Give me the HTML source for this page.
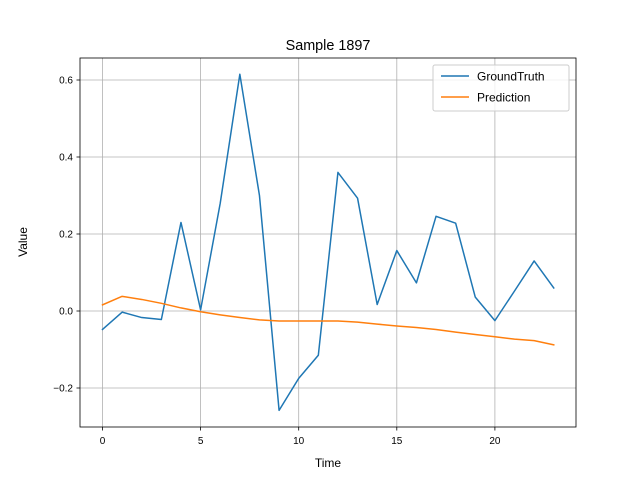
<!DOCTYPE html>
<html><head><meta charset="utf-8"><style>
body{margin:0;background:#fff}
svg text{font-family:"Liberation Sans","DejaVu Sans",sans-serif;fill:#000}
</style></head><body>
<svg id="chart" width="640" height="480" xmlns="http://www.w3.org/2000/svg">
<rect width="640" height="480" fill="#fff"/>
<g id="grid"></g>
<g id="lines"></g>
<rect x="80" y="58" width="496" height="369" fill="none" stroke="#000" stroke-width="0.8"/>
<g id="ticks"></g>
<text x="328" y="50" font-size="14.4" text-anchor="middle">Sample 1897</text>
<text x="328" y="467" font-size="12" text-anchor="middle">Time</text>
<text x="27" y="242" font-size="12" text-anchor="middle" transform="rotate(-90 27 242)">Value</text>
<g>
<rect x="433" y="65" width="136" height="46" rx="2" fill="#fff" fill-opacity="0.8" stroke="#ccc" stroke-width="1"/>
<g>
<line x1="441" y1="76" x2="469" y2="76" stroke="#1f77b4" stroke-width="1.5"/>
<text x="477" y="80.5" font-size="12">GroundTruth</text></g>
<g>
<line x1="441" y1="97" x2="469" y2="97" stroke="#ff7f0e" stroke-width="1.5"/>
<text x="477" y="101.5" font-size="12">Prediction</text></g>
</g>
</svg>
<script>
const timeSteps=[0,1,2,3,4,5,6,7,8,9,10,11,12,13,14,15,16,17,18,19,20,21,22,23];
const groundTruth=[-0.048,-0.003,-0.017,-0.022,0.230,0.003,0.28,0.615,0.30,-0.258,-0.175,-0.115,0.36,0.293,0.017,0.157,0.073,0.246,0.228,0.036,-0.025,0.052,0.13,0.06];
const prediction=[0.016,0.038,0.030,0.020,0.008,-0.002,-0.010,-0.017,-0.023,-0.026,-0.026,-0.026,-0.026,-0.029,-0.034,-0.039,-0.043,-0.048,-0.055,-0.061,-0.067,-0.073,-0.077,-0.088];
const xTicks=[0,5,10,15,20];
const yTicks=[-0.2,0,0.2,0.4,0.6];
const yTickLabels=["−0.2","0.0","0.2","0.4","0.6"];
const NS="http://www.w3.org/2000/svg";
const x=v=>102.5+(v)*19.62;
const y=v=>311-v*385;
function mk(tag,attrs,parent){const e=document.createElementNS(NS,tag);for(const k in attrs)e.setAttribute(k,attrs[k]);parent.appendChild(e);return e;}
const grid=document.getElementById('grid'),ticks=document.getElementById('ticks'),lines=document.getElementById('lines');
xTicks.forEach(t=>{
 const g=mk('line',{x1:x(t),x2:x(t),y1:58,y2:427,stroke:'#b0b0b0','stroke-width':0.8},grid);
 
 
 mk('line',{x1:x(t),x2:x(t),y1:427,y2:430.5,stroke:'#000','stroke-width':0.8},ticks);
 const tx=mk('text',{x:x(t),y:444,'font-size':10,'text-anchor':'middle'},ticks);tx.textContent=t;
 
 
});
yTicks.forEach((t,i)=>{
 const g=mk('line',{x1:80,x2:576,y1:y(t),y2:y(t),stroke:'#b0b0b0','stroke-width':0.8},grid);
 
 
 mk('line',{x1:76.5,x2:80,y1:y(t),y2:y(t),stroke:'#000','stroke-width':0.8},ticks);
 const tx=mk('text',{x:73,y:y(t)+3.5,'font-size':10,'text-anchor':'end'},ticks);tx.textContent=yTickLabels[i];
 
 
});
function series(vals,color,name){
 const p=mk('polyline',{points:vals.map((v,i)=>x(timeSteps[i])+','+y(v)).join(' '),fill:'none',stroke:color,'stroke-width':1.5,'stroke-linejoin':'round','stroke-linecap':'square'},lines);
 
 
}
series(groundTruth,'#1f77b4','groundtruth-line');
series(prediction,'#ff7f0e','prediction-line');
</script>
</body></html>
